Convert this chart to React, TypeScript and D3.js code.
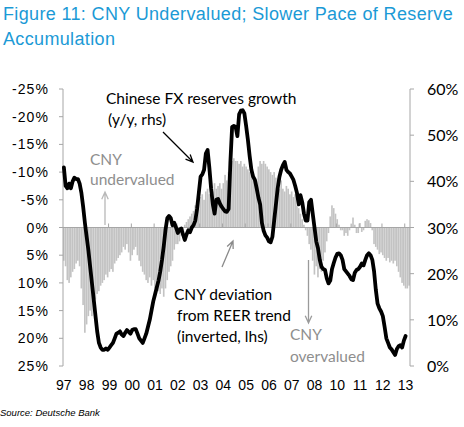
import React from 'react';
import * as d3 from 'd3';

// monthly categories, Jan 1997 .. Jun 2013
const months: Date[] = d3.timeMonth.range(new Date(1997, 0, 1), new Date(2013, 6, 1));

// CNY deviation from REER trend, % (positive = overvalued, drawn downward on inverted lhs)
const reerDeviation: number[] = [
    6, 7, 9.5, 10, 9, 8, 7.5, 6.5, 6, 7,
    11, 14, 19, 17.5, 16, 15, 16, 14, 13, 12,
    11.5, 10.5, 10, 9.5, 8.5, 9, 8, 7.5, 8, 6.5,
    6, 5.5, 5, 4.5, 3.5, 4, 3, 4.5, 6, 5,
    4, 3.5, 5, 6, 7, 8, 8.5, 9.5, 10, 9,
    10.5, 9.5, 11, 10, 11.5, 12, 11, 12.5, 11, 9.5,
    8, 7, 6, 4, 3, 3, 2.5, 1.5, 0.5, -0.5,
    -1, -1.5, -2, -2.5, -3, -4, -4.5, -5, -5.5, -6,
    -5, -6.5, -7, -6, -7.5, -6.5, -8, -7, -7.5, -8,
    -7, -8, -9.5, -8.5, -10, -11, -12, -12.5, -12, -12,
    -11.5, -12, -11, -11.5, -11, -10.5, -10, -9.5, -9, -8,
    -8.5, -11, -12, -11.5, -12, -11.5, -11, -10.5, -10, -9.5,
    -10, -9, -8, -7, -8.5, -7, -6.5, -7.5, -7, -6,
    -6.5, -5.5, -6, -4, -3.5, -2.5, -1.5, -0.5, 0.5, 1.5,
    3, 4, 6, 8.5, 7, 9, 7.5, 8, 6, 4.5,
    2.5, 1, -2, -4, -3.5, -2.5, -1.5, -0.5, 0.5, 0.5,
    1.5, 1, 1.5, 0.5, -0.7, -1.8, -0.5, 1, 1, -0.8,
    0.8, 0.5, -1.2, -1.5, -1.3, -0.8, 0.5, 3, 3.5, 4,
    4.8, 4.5, 5, 5.5, 6, 5.5, 6.3, 6, 6.5, 6,
    7, 8, 9, 10, 10.5, 11, 11, 10.5,
];

// Chinese FX reserves growth, y/y %, rhs
const fxReserves: number[] = [
    43, 39, 38.5, 39.5, 38.5, 40, 40.8, 40.5, 40.5, 39.5,
    37.5, 34.5, 31, 28, 25, 21.5, 18, 14.5, 11, 7.5,
    5, 4, 3.5, 3.5, 3.8, 3.5, 4, 4.5, 5, 6,
    7, 7.2, 7.5, 6.8, 6.5, 7.2, 7.8, 7.4, 7, 7.8,
    8, 8, 7, 6, 5.5, 5, 6, 7, 8.5, 10,
    12, 14, 15.5, 17, 18.5, 20.5, 23, 26, 29.5, 32,
    32.5, 32, 30.5, 31, 30, 28.8, 29.5, 29.8, 28.5, 27.3,
    28.5, 29.4, 29, 30, 30.5, 31.5, 34, 37.5, 41, 41.5,
    42.5, 46, 46.8, 43, 38.5, 35, 33, 36, 36.2, 35.2,
    34.5, 34, 33.5, 33.4, 34, 44, 51.8, 52, 51.8, 49.8,
    54.5, 55.3, 55.4, 54.7, 52, 49, 45.5, 42.5, 41, 40.3,
    38.5, 36.5, 35, 31, 29.3, 28.3, 27.8, 27, 26.8, 28,
    31.5, 35, 38.5, 41, 42.5, 43.5, 44.2, 42.5, 42, 41.7,
    41, 40.3, 39, 37.5, 35, 37, 35.5, 33, 31.5, 31.5,
    35.5, 36, 33, 30, 27, 25.5, 23, 21.5, 21, 20.8,
    19, 17.9, 18.5, 21, 22.3, 23.5, 24.3, 24.4, 24, 23,
    21, 20.5, 20, 19.5, 18.8, 18.6, 20.2, 20.8, 21, 21.5,
    22.2, 21.8, 23, 24, 24.4, 24, 23, 20.5, 16.5, 13.5,
    12.5, 11.8, 10.8, 8.5, 6, 5, 4, 3.6, 3, 2.4,
    3.7, 4.3, 4.5, 4, 5.5, 6.5,
];

const leftTicks: number[] = [-25, -20, -15, -10, -5, 0, 5, 10, 15, 20, 25];
const rightTicks: number[] = [0, 10, 20, 30, 40, 50, 60];
const labelEvery = 13; // category label interval (months)

const W = 464;
const H = 427;
const plot = { left: 63, right: 410, top: 89, bottom: 366 };

const AXIS = '#a6a6a6';
const BAR = '#c3c3c3';
const BLUE = '#1b9ad6';
const GREY_TEXT = '#8e8e8e';
const NOTE_FONT = 'Lato, "Open Sans", sans-serif';
const ARIAL = '"Liberation Sans", Arial, sans-serif';

const Arrow: React.FC<{ x1: number; y1: number; x2: number; y2: number; color: string }> = ({ x1, y1, x2, y2, color }) => {
    const a = Math.atan2(y2 - y1, x2 - x1);
    const L = 8;
    const s = 0.42;
    const d = `M${x1},${y1}L${x2},${y2}` +
        `M${x2 - L * Math.cos(a - s)},${y2 - L * Math.sin(a - s)}L${x2},${y2}` +
        `L${x2 - L * Math.cos(a + s)},${y2 - L * Math.sin(a + s)}`;
    return <path d={d} fill="none" stroke={color} strokeWidth={1.3} />;
};

const App: React.FC = () => {
    const x = d3.scaleBand<number>()
        .domain(d3.range(months.length))
        .range([plot.left, plot.right])
        .padding(0);
    const bw = x.bandwidth();

    const yL = d3.scaleLinear().domain([-25, 25]).range([plot.top, plot.bottom]);
    const yR = d3.scaleLinear().domain([0, 60]).range([plot.bottom, plot.top]);
    const y0 = yL(0);

    const line = d3.line<number>()
        .x((_, i) => (x(i) as number) + bw / 2)
        .y(d => yR(d));

    const fmtYear = d3.timeFormat('%y');
    const labelIdx = d3.range(0, months.length, labelEvery).filter(i => i < fxReserves.length);

    return (
        <svg width={W} height={H} style={{ position: 'absolute', left: 0, top: 0, background: '#fff' }}>
            {/* title */}
            <g fontFamily={ARIAL} fontSize={18} fill={BLUE} letterSpacing={0.35}>
                <text x={3} y={20}>Figure 11: CNY Undervalued; Slower Pace of Reserve</text>
                <text x={3} y={45}>Accumulation</text>
            </g>

            {/* bars */}
            <g fill={BAR}>
                {reerDeviation.map((v, i) => (
                    <rect key={i}
                          x={x(i) as number}
                          y={Math.min(yL(v), y0)}
                          width={bw - 0.1}
                          height={Math.abs(yL(v) - y0)} />
                ))}
            </g>

            {/* axes */}
            <g stroke={AXIS} strokeWidth={1} fill="none">
                <line x1={plot.left} x2={plot.left} y1={plot.top} y2={plot.bottom} />
                <line x1={plot.right} x2={plot.right} y1={plot.top} y2={plot.bottom} />
                <line x1={plot.left} x2={plot.right + 4} y1={y0} y2={y0} />
                {leftTicks.map(t => (
                    <line key={'l' + t} x1={plot.left - 4} x2={plot.left} y1={yL(t)} y2={yL(t)} />
                ))}
                {rightTicks.map(t => (
                    <line key={'r' + t} x1={plot.right} x2={plot.right + 4} y1={yR(t)} y2={yR(t)} />
                ))}
                {labelIdx.slice(1).map(i => (
                    <line key={'c' + i} x1={x(i) as number} x2={x(i) as number} y1={y0 - 4} y2={y0} />
                ))}
            </g>

            {/* reserves growth line */}
            <path d={line(fxReserves) || ''} fill="none" stroke="#000" strokeWidth={3.8}
                  strokeLinejoin="round" strokeLinecap="round" />

            {/* left tick labels */}
            <g fontFamily={ARIAL} fontSize={14} fill="#000" textAnchor="end" letterSpacing={1.1}>
                {leftTicks.map(t => (
                    <text key={t} x={49} y={yL(t) + 5}>{`${t}%`}</text>
                ))}
            </g>

            {/* right tick labels */}
            <g fontFamily={NOTE_FONT} fontSize={16} fill="#000">
                {rightTicks.map(t => (
                    <text key={t} x={427} y={yR(t) + 6}>{`${t}%`}</text>
                ))}
            </g>

            {/* category labels */}
            <g fontFamily={ARIAL} fontSize={14} fill="#000" textAnchor="middle">
                {labelIdx.map(i => (
                    <text key={i} x={(x(i) as number) + bw / 2} y={390}>{fmtYear(months[i])}</text>
                ))}
            </g>

            {/* annotations */}
            <g fontFamily={NOTE_FONT} fontSize={15.5}>
                <text x={106} y={104} fill="#000">Chinese FX reserves growth</text>
                <text x={108} y={125} fill="#000">(y/y, rhs)</text>
                <text x={90} y={165} fill={GREY_TEXT}>CNY</text>
                <text x={90} y={185} fill={GREY_TEXT}>undervalued</text>
                <text x={174} y={300} fill="#000">CNY deviation</text>
                <text x={177} y={321} fill="#000">from REER trend</text>
                <text x={177} y={342} fill="#000">(inverted, lhs)</text>
                <text x={290} y={340} fill={GREY_TEXT}>CNY</text>
                <text x={290} y={362} fill={GREY_TEXT}>overvalued</text>
            </g>
            <Arrow x1={163} y1={132} x2={193} y2={162} color="#000" />
            <Arrow x1={105} y1={225} x2={105} y2={192} color="#b8b8b8" />
            <Arrow x1={222} y1={267} x2={233} y2={241} color="#8a8a8a" />
            <Arrow x1={308.5} y1={260} x2={308.5} y2={323} color="#9a9a9a" />

            {/* source */}
            <text x={0} y={416} fontFamily={ARIAL} fontSize={9.5} fontStyle="italic" fill="#000">
                Source: Deutsche Bank
            </text>
        </svg>
    );
};

export default App;
